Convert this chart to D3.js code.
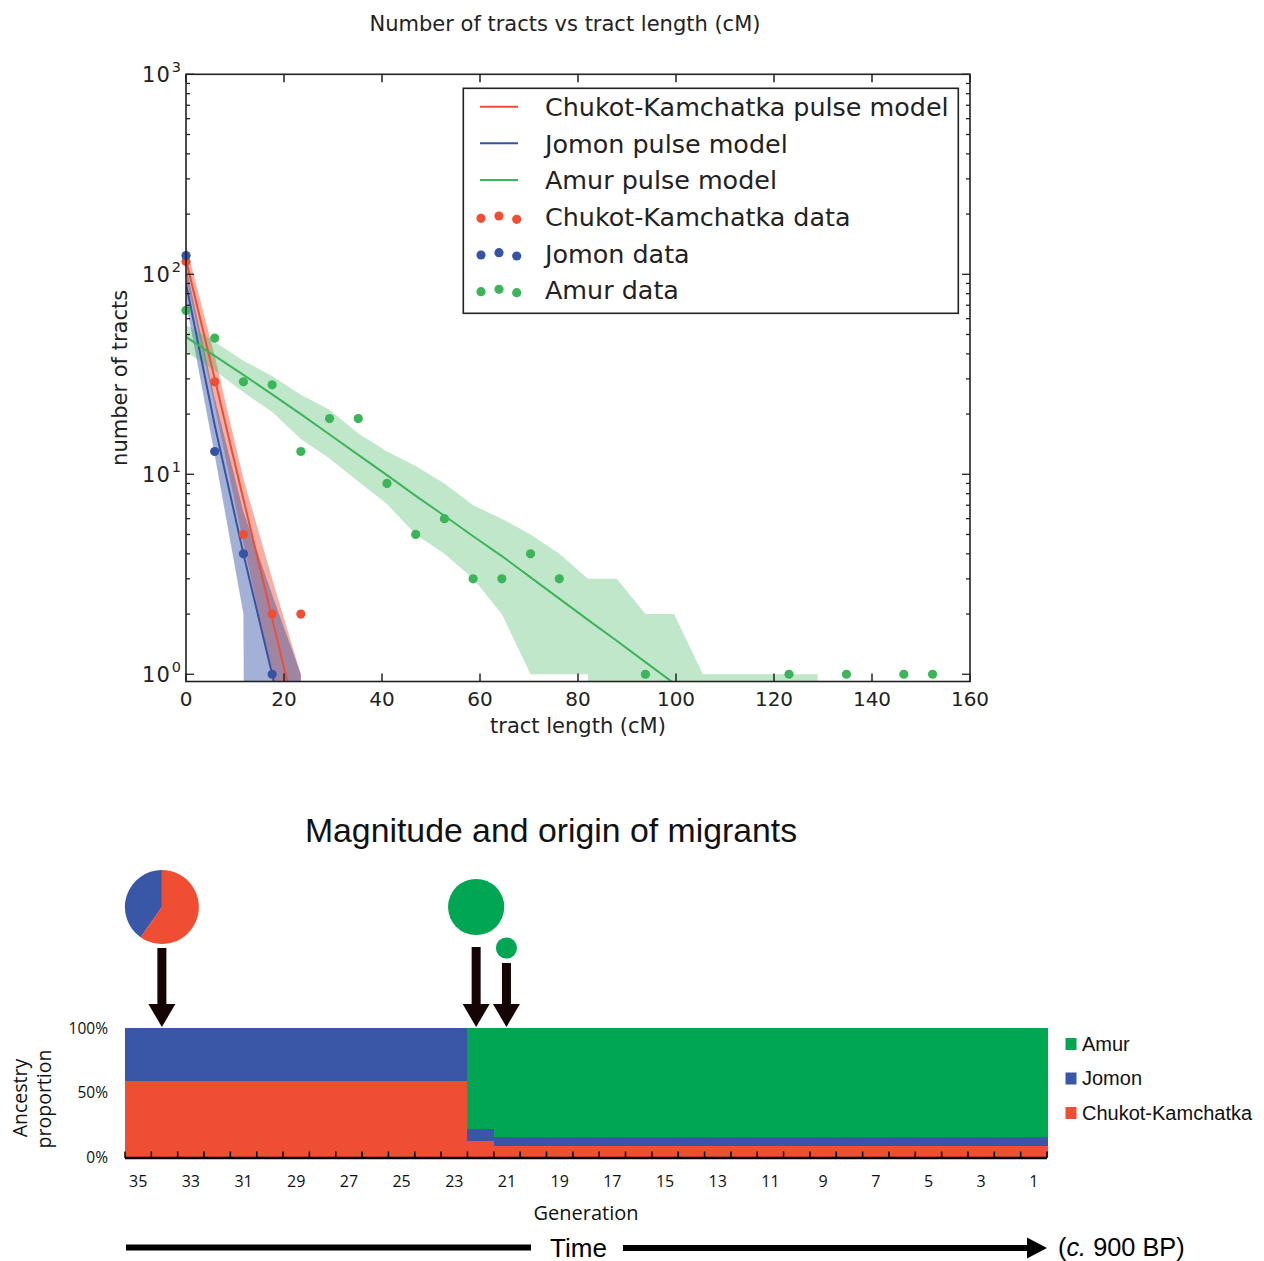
<!DOCTYPE html>
<html>
<head>
<meta charset="utf-8">
<script src="https://cdn.jsdelivr.net/npm/d3@7/dist/d3.min.js"></script>
<style>
html,body{margin:0;padding:0;background:#fff;}
svg{display:block;}
</style>
</head>
<body>
<svg id="chart" width="1264" height="1261"></svg>
<script>
// ---------------- DATA: top panel ----------------
const binCenters = [0, 5.86, 11.72, 17.58, 23.44, 29.3, 35.16, 41.02, 46.88, 52.74, 58.6, 64.46, 70.32, 76.18, 82.04, 87.9, 93.76, 99.62, 105.48, 111.34, 117.2, 123.06, 128.92, 134.78, 140.64, 146.5, 152.36];
const xTicks = [0, 20, 40, 60, 80, 100, 120, 140, 160];
const yTicks = [1, 10, 100, 1000];
const yTickExp = ["0", "1", "2", "3"];

const chukotData = [116, 29, 5, 2, 2];
const jomonData = [124, 13, 4, 1];
const amurData = [66, 48, 29, 28, 13, 19, 19, 9, 5, 6, 3, 3, 4, 3, 0, 0, 1, 0, 0, 0, 0, 1, 0, 1, 0, 1, 1];

const chukotModel = [118, 30, 7.5, 1.9, 0.48, 0.12];
const jomonModel = [90, 17.6, 4, 1, 0.25];
const amurModel = [48.6, 39.1, 31.4, 25.1, 20.0, 15.8, 12.5, 9.9, 7.8, 6.2, 4.9, 3.9, 3.05, 2.39, 1.87, 1.47, 1.15, 0.9, 0.7];

const chukotUpper = [140, 39, 9.5, 3, 1, 0];
const chukotLower = [98, 22, 4.5, 1, 0, 0];
const jomonUpper = [110, 24, 6.5, 2.5, 1, 0];
const jomonLower = [72, 12.5, 2, 0, 0, 0];
const amurUpper = [56, 46, 37, 31, 25, 21, 16, 13, 11, 9, 7, 6, 5, 4, 3, 3, 2, 2, 1, 1, 1, 1, 1, 0];
const amurLower = [41, 33, 25.7, 20.5, 15, 12, 9.2, 7.1, 5, 4, 3, 2, 1, 1, 1, 0, 0, 0, 0, 0, 0, 0, 0, 0];

const legendLabels = ["Chukot-Kamchatka pulse model", "Jomon pulse model", "Amur pulse model",
                      "Chukot-Kamchatka data", "Jomon data", "Amur data"];

// ---------------- DATA: bottom panel ----------------
const generations = [35, 34, 33, 32, 31, 30, 29, 28, 27, 26, 25, 24, 23, 22, 21, 20, 19, 18, 17, 16, 15, 14, 13, 12, 11, 10, 9, 8, 7, 6, 5, 4, 3, 2, 1];
const genChukot = [0.59, 0.59, 0.59, 0.59, 0.59, 0.59, 0.59, 0.59, 0.59, 0.59, 0.59, 0.59, 0.59, 0.124, 0.088, 0.088, 0.088, 0.088, 0.088, 0.088, 0.088, 0.088, 0.088, 0.088, 0.088, 0.088, 0.088, 0.088, 0.088, 0.088, 0.088, 0.088, 0.088, 0.088, 0.088];
const genJomon = [0.41, 0.41, 0.41, 0.41, 0.41, 0.41, 0.41, 0.41, 0.41, 0.41, 0.41, 0.41, 0.41, 0.093, 0.064, 0.064, 0.064, 0.064, 0.064, 0.064, 0.064, 0.064, 0.064, 0.064, 0.064, 0.064, 0.064, 0.064, 0.064, 0.064, 0.064, 0.064, 0.064, 0.064, 0.064];
const genAmur = [0, 0, 0, 0, 0, 0, 0, 0, 0, 0, 0, 0, 0, 0.783, 0.848, 0.848, 0.848, 0.848, 0.848, 0.848, 0.848, 0.848, 0.848, 0.848, 0.848, 0.848, 0.848, 0.848, 0.848, 0.848, 0.848, 0.848, 0.848, 0.848, 0.848];
const genTickLabels = [35, 33, 31, 29, 27, 25, 23, 21, 19, 17, 15, 13, 11, 9, 7, 5, 3, 1];
const pctTicks = [0, 0.5, 1];
const pctLabels = ["0%", "50%", "100%"];
const ancestryNames = ["Amur", "Jomon", "Chukot-Kamchatka"];

// migration pulses: generation, magnitude, composition [Chukot, Jomon, Amur]
const pulseGen = [34.1, 22.17, 21.02];
const pulseMagnitude = [1.0, 0.76, 0.285];
const pulseChukot = [0.598, 0, 0];
const pulseJomon = [0.402, 0, 0];
const pulseAmur = [0, 1, 1];

// ---------------- STYLE ----------------
const C = {
  red: "#f04e33", blue: "#3653a4", green: "#3cb55a",
  bRed: "#f04e33", bBlue: "#3a57a7", bGreen: "#00a651",
  axis: "#222222", arrow: "#150404"
};
const FONT_TOP = "'DejaVu Sans', sans-serif";
const FONT_BOT = "'Open Sans', 'Noto Sans', sans-serif";
const FONT_ARIAL = "'Liberation Sans', Arial, sans-serif";

const svg = d3.select("#chart");

// ================= TOP PANEL =================
const L = 186, R = 970, T = 74.3, B = 681.5;
const x = d3.scaleLinear().domain([0, 160]).range([L, R]);
const y = d3.scaleLog().domain([0.92, 1000]).range([B, T]);
const yv = v => v > 0 ? y(v) : y(1e-30);

svg.append("defs").append("clipPath").attr("id", "plotclip")
  .append("rect").attr("x", L).attr("y", T).attr("width", R - L).attr("height", B - T);

const topG = svg.append("g");
const plot = topG.append("g").attr("clip-path", "url(#plotclip)");

function bandData(up, lo) {
  return up.map((u, i) => ({ x: binCenters[i], u: u, l: lo[i] }));
}
const area = d3.area().x(d => x(d.x)).y0(d => yv(d.l)).y1(d => yv(d.u));
const line = d3.line().x(d => x(d.x)).y(d => yv(d.v));

const pops = [
  { col: C.red, alpha: 0.45, up: chukotUpper, lo: chukotLower, model: chukotModel, data: chukotData },
  { col: C.blue, alpha: 0.45, up: jomonUpper, lo: jomonLower, model: jomonModel, data: jomonData },
  { col: C.green, alpha: 0.32, up: amurUpper, lo: amurLower, model: amurModel, data: amurData }
];

pops.forEach(p => {
  plot.append("path").datum(bandData(p.up, p.lo))
    .attr("d", area).attr("fill", p.col).attr("fill-opacity", p.alpha).attr("stroke", "none");
  const pts = p.data.map((v, i) => ({ x: binCenters[i], v: v })).filter(d => d.v > 0);
  topG.append("g").selectAll("circle").data(pts).join("circle")
    .attr("cx", d => x(d.x)).attr("cy", d => y(d.v)).attr("r", 4.6).attr("fill", p.col);
});
pops.forEach(p => {
  const pts = p.model.map((v, i) => ({ x: binCenters[i], v: v }));
  plot.append("path").datum(pts).attr("d", line)
    .attr("fill", "none").attr("stroke", p.col).attr("stroke-width", 2);
});

// frame
topG.append("rect").attr("x", L).attr("y", T).attr("width", R - L).attr("height", B - T)
  .attr("fill", "none").attr("stroke", C.axis).attr("stroke-width", 1.6);

// x ticks (inward, top and bottom)
const xtg = topG.append("g").attr("stroke", C.axis).attr("stroke-width", 1.5);
xTicks.forEach(t => {
  xtg.append("line").attr("x1", x(t)).attr("x2", x(t)).attr("y1", B).attr("y2", B - 8);
  xtg.append("line").attr("x1", x(t)).attr("x2", x(t)).attr("y1", T).attr("y2", T + 8);
});
topG.append("g").selectAll("text").data(xTicks).join("text")
  .attr("x", d => x(d)).attr("y", B + 24).attr("text-anchor", "middle")
  .attr("font-family", FONT_TOP).attr("font-size", 20).attr("fill", "#222")
  .text(d => d);

// y ticks major + minor
const ytg = topG.append("g").attr("stroke", C.axis).attr("stroke-width", 1.3);
yTicks.forEach(t => {
  ytg.append("line").attr("x1", L).attr("x2", L + 8).attr("y1", y(t)).attr("y2", y(t));
  ytg.append("line").attr("x1", R).attr("x2", R - 8).attr("y1", y(t)).attr("y2", y(t));
});
y.ticks().filter(t => !yTicks.includes(t) && t >= 0.92).forEach(t => {
  ytg.append("line").attr("x1", L).attr("x2", L + 4).attr("y1", y(t)).attr("y2", y(t));
  ytg.append("line").attr("x1", R).attr("x2", R - 4).attr("y1", y(t)).attr("y2", y(t));
});
const ylab = topG.append("g").selectAll("text").data(yTicks).join("text")
  .attr("x", L - 5).attr("y", d => y(d) + 7.5).attr("text-anchor", "end")
  .attr("font-family", FONT_TOP).attr("font-size", 21).attr("fill", "#222");
ylab.append("tspan").attr("letter-spacing", 1).text("10");
ylab.append("tspan").attr("dy", -9.5).attr("dx", 1).attr("font-size", 14.5).text((d, i) => yTickExp[i]);

// axis labels + title
topG.append("text").attr("x", (L + R) / 2).attr("y", 733).attr("text-anchor", "middle")
  .attr("font-family", FONT_TOP).attr("font-size", 21).attr("fill", "#222").text("tract length (cM)");
topG.append("text").attr("transform", `translate(127,${(T + B) / 2}) rotate(-90)`)
  .attr("text-anchor", "middle").attr("font-family", FONT_TOP).attr("font-size", 21)
  .attr("fill", "#222").text("number of tracts");
topG.append("text").attr("x", 565).attr("y", 31).attr("text-anchor", "middle")
  .attr("font-family", FONT_TOP).attr("font-size", 21).attr("fill", "#222")
  .text("Number of tracts vs tract length (cM)");

// legend
const lg = topG.append("g");
lg.append("rect").attr("x", 463.3).attr("y", 88.3).attr("width", 495).attr("height", 225)
  .attr("fill", "#fff").attr("stroke", C.axis).attr("stroke-width", 1.6);
const legendCols = [C.red, C.blue, C.green, C.red, C.blue, C.green];
const dotDx = [481, 499, 516.7], dotDy = [1.6, -0.7, 2.6];
legendLabels.forEach((lab, i) => {
  const cy = 106.7 + i * 36.67;
  if (i < 3) {
    lg.append("line").attr("x1", 480).attr("x2", 518).attr("y1", cy).attr("y2", cy)
      .attr("stroke", legendCols[i]).attr("stroke-width", 2);
  } else {
    dotDx.forEach((dx, j) => lg.append("circle").attr("cx", dx).attr("cy", cy + dotDy[j])
      .attr("r", 4.6).attr("fill", legendCols[i]));
  }
  lg.append("text").attr("x", 545).attr("y", cy + 9.2)
    .attr("font-family", FONT_TOP).attr("font-size", 25.4).attr("fill", "#222").text(lab);
});

// ================= BOTTOM PANEL =================
const bot = svg.append("g");
const gx = d3.scaleLinear().domain([35.5, 0.5]).range([125, 1047]);
const gy = d3.scaleLinear().domain([0, 1]).range([1157, 1028]);

const rows = generations.map((g, i) => ({ gen: g, chukot: genChukot[i], jomon: genJomon[i], amur: genAmur[i] }));
const stack = d3.stack().keys(["chukot", "jomon", "amur"])(rows);
const stackCol = { chukot: C.bRed, jomon: C.bBlue, amur: C.bGreen };
stack.forEach(s => {
  bot.append("g").attr("fill", stackCol[s.key]).selectAll("rect").data(s).join("rect")
    .attr("x", d => gx(d.data.gen + 0.5)).attr("width", d => gx(d.data.gen - 0.5) - gx(d.data.gen + 0.5) + 0.6)
    .attr("y", d => gy(d[1])).attr("height", d => gy(d[0]) - gy(d[1]))
    .attr("shape-rendering", "crispEdges");
});

// axis
bot.append("line").attr("x1", 125).attr("x2", 1047).attr("y1", 1158).attr("y2", 1158)
  .attr("stroke", "#000").attr("stroke-width", 2.6);
const bounds = generations.map(g => g + 0.5).concat([0.5]);
bot.append("g").selectAll("line").data(bounds).join("line")
  .attr("x1", d => gx(d)).attr("x2", d => gx(d)).attr("y1", 1158).attr("y2", 1151.5)
  .attr("stroke", "#000").attr("stroke-width", 1.5);
bot.append("g").selectAll("text").data(genTickLabels).join("text")
  .attr("x", d => gx(d)).attr("y", 1187).attr("text-anchor", "middle")
  .attr("font-family", FONT_BOT).attr("font-size", 16).attr("fill", "#111").text(d => d);
bot.append("text").attr("x", 586).attr("y", 1220).attr("text-anchor", "middle")
  .attr("font-family", FONT_BOT).attr("font-size", 20).attr("fill", "#111").text("Generation");

bot.append("g").selectAll("text").data(pctTicks).join("text")
  .attr("x", 108).attr("y", d => gy(d) + 5.5).attr("text-anchor", "end")
  .attr("font-family", FONT_BOT).attr("font-size", 15.5).attr("fill", "#111")
  .text((d, i) => pctLabels[i]);
bot.append("text").attr("transform", "translate(27,1098) rotate(-90)").attr("text-anchor", "middle")
  .attr("font-family", FONT_BOT).attr("font-size", 19.5).attr("fill", "#111").text("Ancestry");
bot.append("text").attr("transform", "translate(51,1099) rotate(-90)").attr("text-anchor", "middle")
  .attr("font-family", FONT_BOT).attr("font-size", 19.5).attr("fill", "#111").text("proportion");

// legend
const legCols = [C.bGreen, C.bBlue, C.bRed];
ancestryNames.forEach((n, i) => {
  const cy = 1044 + i * 34.5;
  bot.append("rect").attr("x", 1065.5).attr("y", cy - 6).attr("width", 11).attr("height", 12).attr("fill", legCols[i]);
  bot.append("text").attr("x", 1082).attr("y", cy + 6.8).attr("font-family", FONT_ARIAL)
    .attr("font-size", 20).attr("fill", "#111").text(n);
});

// title
bot.append("text").attr("x", 551).attr("y", 842).attr("text-anchor", "middle")
  .attr("font-family", FONT_ARIAL).attr("font-size", 33.8).attr("fill", "#111")
  .text("Magnitude and origin of migrants");

// pulses
const maxR = 37;
const circleCy = [907, 907, 948];
const shaftTop = [948, 947, 963];
pulseGen.forEach((g, i) => {
  const cx = gx(g), r = maxR * pulseMagnitude[i];
  const parts = [
    { v: pulseChukot[i], c: C.bRed },
    { v: pulseJomon[i], c: C.bBlue },
    { v: pulseAmur[i], c: C.bGreen }
  ].filter(p => p.v > 0);
  if (parts.length === 1) {
    bot.append("circle").attr("cx", cx).attr("cy", circleCy[i]).attr("r", r).attr("fill", parts[0].c);
  } else {
    const pie = d3.pie().sort(null).value(p => p.v)(parts);
    const arc = d3.arc().innerRadius(0).outerRadius(r);
    bot.append("g").attr("transform", `translate(${cx},${circleCy[i]})`)
      .selectAll("path").data(pie).join("path").attr("d", arc).attr("fill", d => d.data.c);
  }
  // arrow
  bot.append("rect").attr("x", cx - 4.5).attr("y", shaftTop[i]).attr("width", 9)
    .attr("height", 1005 - shaftTop[i]).attr("fill", C.arrow);
  bot.append("path").attr("d", `M${cx - 13.5},1004 L${cx + 13.5},1004 L${cx},1027 Z`).attr("fill", C.arrow);
});

// time arrow
bot.append("line").attr("x1", 126).attr("x2", 531).attr("y1", 1247.5).attr("y2", 1247.5)
  .attr("stroke", "#000").attr("stroke-width", 6);
bot.append("line").attr("x1", 623).attr("x2", 1030).attr("y1", 1248).attr("y2", 1248)
  .attr("stroke", "#000").attr("stroke-width", 6);
bot.append("path").attr("d", "M1027,1237.5 L1047,1248 L1027,1258.5 Z").attr("fill", "#000");
bot.append("text").attr("x", 578.5).attr("y", 1256.5).attr("text-anchor", "middle")
  .attr("font-family", FONT_ARIAL).attr("font-size", 26).attr("fill", "#000").text("Time");
const bp = bot.append("text").attr("x", 1058).attr("y", 1256)
  .attr("font-family", FONT_ARIAL).attr("font-size", 25.3).attr("fill", "#000");
bp.append("tspan").text("(");
bp.append("tspan").attr("font-style", "italic").text("c.");
bp.append("tspan").text(" 900 BP)");
</script>
</body>
</html>
